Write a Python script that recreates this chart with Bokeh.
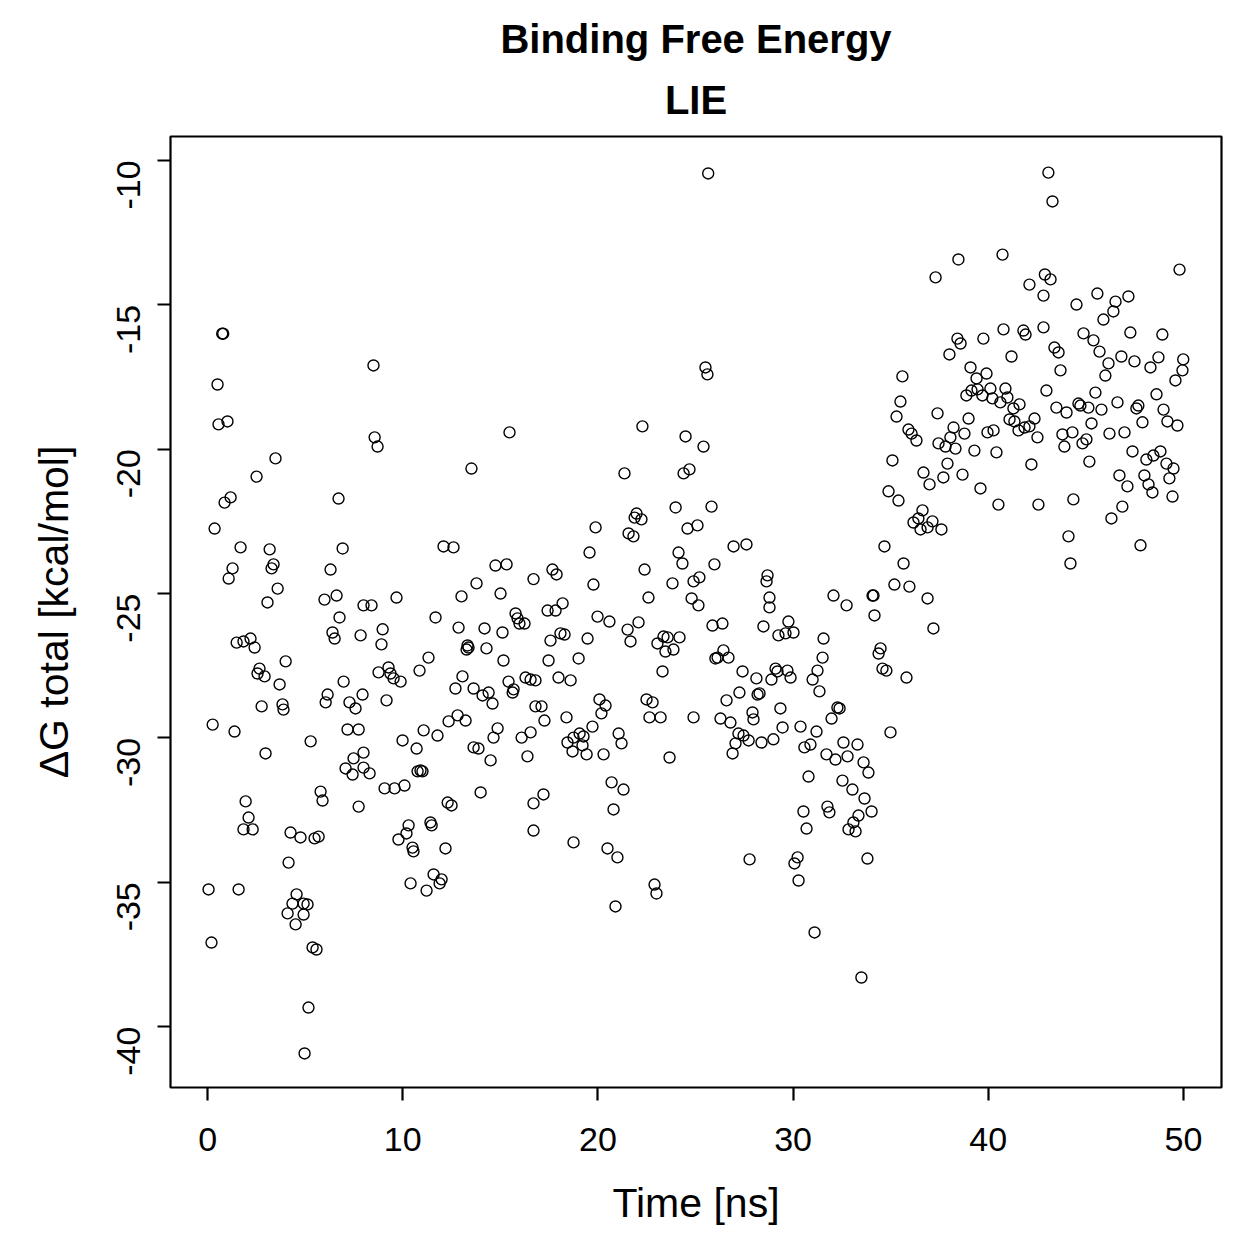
from bokeh.plotting import figure
from bokeh.models import Range1d, FixedTicker, Title, ColumnDataSource
from bokeh.embed import file_html
from bokeh.resources import INLINE
import math

time_ns = [
0.05,0.20,0.26,0.36,0.51,0.56,0.75,0.80,0.87,1.02,1.08,1.18,1.28,1.38,1.49,1.59,1.69,1.84,1.84,1.95,
2.10,2.20,2.31,2.41,2.51,2.56,2.66,2.77,2.92,2.97,3.07,3.18,3.28,3.38,3.48,3.59,3.69,3.84,3.89,4.00,
4.10,4.15,4.25,4.35,4.51,4.56,4.76,4.92,4.92,4.97,5.12,5.17,5.28,5.38,5.48,5.58,5.69,5.79,5.89,5.99,
6.05,6.15,6.30,6.40,6.51,6.61,6.71,6.76,6.92,6.97,7.07,7.17,7.27,7.43,7.48,7.58,7.74,7.74,7.84,7.94,
7.99,7.99,7.99,8.30,
8.40,8.50,8.56,8.71,8.76,8.91,8.97,9.07,9.17,9.27,9.37,9.53,9.58,9.68,9.78,9.89,9.99,10.09,10.19,10.30,
10.40,10.50,10.55,10.71,10.76,10.86,10.91,11.01,11.07,11.22,11.32,11.42,11.48,11.58,11.68,11.78,11.89,11.99,12.09,12.19,
12.30,12.35,12.50,12.60,12.70,12.81,12.86,13.01,13.06,13.22,13.27,13.32,13.37,13.52,13.63,13.63,13.78,13.88,13.99,14.09,
14.19,14.29,14.40,14.50,14.60,14.65,14.75,14.86,15.01,15.11,15.16,15.32,15.42,15.47,15.63,15.68,15.78,15.88,15.98,16.09,
16.24,16.29,16.39,16.55,16.55,16.70,16.70,16.70,16.80,16.80,
17.11,17.21,17.26,17.42,17.47,17.57,17.67,17.83,17.88,17.98,18.08,18.19,18.29,18.39,18.44,18.60,18.70,18.75,18.75,19.01,
19.06,19.21,19.26,19.42,19.47,19.57,19.72,19.77,19.88,19.98,20.08,20.18,20.29,20.39,20.49,20.59,20.70,20.80,20.90,21.00,
21.06,21.21,21.31,21.36,21.52,21.57,21.67,21.82,21.88,21.98,22.08,22.23,22.28,22.39,22.49,22.59,22.64,22.80,22.90,23.00,
23.05,23.21,23.31,23.36,23.46,23.57,23.67,23.82,23.87,23.98,24.13,24.18,24.33,24.39,24.49,24.59,24.69,24.80,24.90,24.90,
25.10,25.15,25.20,25.41,25.51,25.61,25.65,25.82,
25.87,25.97,26.02,26.13,26.28,26.38,26.43,26.59,26.69,26.79,26.90,26.95,27.05,27.20,27.25,27.41,27.46,27.61,27.72,27.77,
27.92,27.97,28.12,28.18,28.28,28.38,28.48,28.64,28.69,28.79,28.79,28.89,28.99,29.10,29.20,29.25,29.35,29.46,29.61,29.71,
29.76,29.87,30.02,30.07,30.23,30.28,30.38,30.53,30.58,30.69,30.79,30.89,31.00,31.10,31.20,31.25,31.35,31.51,31.56,31.71,
31.76,31.86,31.97,32.07,32.17,32.27,32.38,32.53,32.58,32.74,32.79,32.84,33.04,33.09,33.20,33.30,33.35,33.50,33.61,33.66,
33.81,33.86,34.02,34.07,34.12,34.17,
34.38,34.48,34.58,34.68,34.78,34.89,34.99,35.09,35.19,35.30,35.40,35.50,35.60,35.66,35.81,35.91,35.96,36.07,36.17,36.32,
36.42,36.53,36.63,36.68,36.89,36.89,36.99,37.14,37.19,37.30,37.40,37.45,37.60,37.70,37.81,37.91,38.01,38.06,38.22,38.32,
38.42,38.47,38.58,38.68,38.78,38.88,38.99,39.09,39.14,39.29,39.40,39.45,39.60,39.70,39.75,39.91,39.96,40.11,40.21,40.27,
40.42,40.52,40.62,40.73,40.78,40.88,40.98,41.09,41.19,41.29,41.34,41.55,41.60,41.80,41.86,41.91,42.11,42.11,42.21,42.37,
42.52,42.57,42.83,42.83,42.90,42.98,43.08,43.19,43.29,
43.39,43.49,43.60,43.70,43.80,43.90,44.01,44.11,44.21,44.31,44.36,44.52,44.62,44.72,44.83,44.88,45.03,45.13,45.18,45.29,
45.39,45.49,45.59,45.70,45.80,45.90,46.00,46.16,46.21,46.31,46.41,46.52,46.62,46.72,46.82,46.87,46.98,47.13,47.18,47.28,
47.39,47.49,47.59,47.69,47.80,47.90,48.00,48.10,48.21,48.31,48.41,48.46,48.62,48.72,48.82,48.92,48.98,49.13,49.18,49.28,
49.44,49.49,49.59,49.69,49.80,49.95,49.99,
]

dG_total = [
-35.25,-37.09,-29.54,-22.75,-17.76,-19.14,-16.00,-16.00,-21.85,-19.04,-24.48,-21.67,-24.13,-29.78,-26.70,-35.25,-23.40,-26.66,-33.17,-32.20,
-32.76,-26.56,-33.17,-26.87,-20.95,-27.77,-27.60,-28.91,-27.87,-30.54,-25.31,-23.47,-24.13,-23.99,-20.32,-24.83,-28.15,-28.84,-29.02,-27.35,
-36.08,-34.32,-33.28,-35.74,-36.46,-35.42,-33.45,-35.74,-36.12,-40.93,-35.77,-39.34,-30.12,-37.26,-33.48,-37.33,-33.42,-31.86,-32.17,-25.21,
-28.77,-28.50,-24.17,-26.35,-26.56,-25.07,-21.71,-25.83,-23.44,-28.05,-31.06,-29.71,-28.77,-31.27,-30.71,-28.98,-29.71,-32.38,-26.45,-28.50,
-25.41,-30.51,-31.03,-31.23,
-25.41,-17.10,-19.59,-19.91,-27.73,-26.76,-26.24,-31.75,-28.70,-27.56,-27.77,-27.94,-31.75,-25.14,-33.52,-28.05,-30.09,-31.65,-33.31,-33.03,
-35.04,-33.80,-33.93,-30.37,-31.16,-27.67,-31.13,-31.16,-29.74,-35.29,-27.22,-32.93,-33.03,-34.73,-25.83,-29.92,-35.04,-34.90,-23.37,-33.83,
-32.24,-29.43,-32.34,-23.40,-28.29,-29.22,-26.18,-25.10,-27.87,-29.40,-26.94,-26.80,-26.87,-20.67,-28.29,-30.33,-24.65,-30.37,-31.89,-28.53,
-26.21,-26.90,-28.43,-30.78,-28.81,-29.99,-24.03,-29.67,-25.00,-26.35,-27.32,-23.99,-28.05,-19.42,-28.43,-28.32,-25.69,-25.86,-26.04,-29.99,
-26.04,-27.91,-30.64,-27.98,-29.81,-24.50,-32.27,-33.21,-28.01,-28.91,
-28.91,-31.96,-29.40,-25.59,-27.32,-26.63,-24.17,-25.59,-24.34,-27.91,-26.38,-25.34,-26.42,-29.29,-30.16,-28.01,-30.47,-29.99,-33.62,-27.25,
-29.85,-30.26,-29.95,-30.57,-26.56,-23.58,-29.61,-24.69,-22.71,-25.80,-28.67,-29.15,-30.57,-28.88,-33.83,-25.97,-31.54,-32.48,-35.84,-34.14,
-29.85,-30.19,-31.79,-20.84,-26.25,-22.92,-26.66,-23.02,-22.37,-22.23,-26.00,-22.43,-19.21,-24.17,-28.67,-25.14,-29.29,-28.77,-35.08,-35.39,
-26.73,-29.29,-27.70,-26.49,-27.01,-26.52,-30.68,-24.65,-26.94,-22.02,-23.58,-26.52,-23.96,-20.84,-19.56,-22.75,-20.70,-25.17,-24.58,-29.29,
-22.64,-25.41,-24.44,-19.91,-17.17,-17.41,-10.45,-21.99,
-26.11,-23.99,-27.25,-27.22,-29.33,-26.04,-26.97,-28.70,-27.22,-29.47,-30.54,-23.37,-30.19,-29.85,-28.43,-27.70,-29.92,-23.30,-30.09,-34.21,
-29.12,-29.36,-27.94,-28.50,-28.46,-30.16,-26.14,-24.58,-24.37,-25.14,-25.48,-27.98,-30.05,-27.60,-27.70,-26.45,-28.98,-29.64,-26.38,-27.67,
-25.97,-27.91,-26.35,-34.35,-34.14,-34.94,-29.61,-32.55,-30.33,-33.14,-31.34,-30.23,-27.98,-36.74,-29.78,-27.67,-28.39,-27.22,-26.56,-30.57,
-32.38,-32.58,-29.33,-25.07,-30.75,-28.95,-28.98,-31.48,-30.16,-25.41,-30.64,-33.17,-31.79,-32.93,-33.24,-30.23,-32.69,-38.30,-30.85,-32.10,
-34.18,-31.20,-32.55,-25.07,-25.07,-25.76,
-27.08,-26.90,-27.60,-23.37,-27.67,-21.46,-29.81,-20.39,-24.69,-18.87,-21.78,-18.35,-17.48,-23.96,-27.91,-19.32,-24.76,-19.46,-22.54,-19.70,
-22.40,-22.78,-22.12,-20.81,-22.71,-25.17,-21.22,-22.50,-26.21,-14.05,-18.76,-19.80,-22.78,-20.98,-19.91,-20.50,-16.72,-19.59,-19.25,-19.98,
-16.17,-13.43,-16.34,-20.88,-19.46,-18.14,-18.94,-17.17,-17.97,-20.05,-17.55,-17.93,-21.36,-18.14,-16.17,-17.38,-19.42,-17.90,-18.24,-19.35,
-20.11,-21.92,-18.38,-13.26,-15.85,-17.90,-18.21,-18.97,-16.79,-18.59,-19.04,-19.35,-18.45,-15.89,-19.25,-16.03,-19.21,-14.30,-20.53,-18.94,
-19.59,-21.92,-14.68,-15.78,-13.95,-17.97,-10.42,-14.12,-11.42,
-16.48,-18.56,-16.65,-17.27,-19.49,-19.91,-18.73,-23.02,-23.96,-19.42,-21.74,-14.99,-18.42,-18.49,-19.80,-15.99,-19.66,-18.56,-20.43,-19.11,
-16.23,-18.04,-14.61,-16.62,-18.63,-15.51,-17.45,-17.03,-19.46,-22.40,-15.23,-14.89,-18.38,-20.91,-16.79,-21.99,-19.42,-21.29,-14.71,-15.96,
-20.08,-16.96,-18.59,-18.49,-23.33,-19.07,-20.91,-20.36,-21.22,-17.17,-21.50,-20.22,-18.10,-16.82,-20.08,-16.03,-18.63,-20.50,-19.04,-21.01,
-21.64,-20.67,-17.62,-19.18,-13.78,-17.27,-16.89,
]

x_ticks = [0, 10, 20, 30, 40, 50]
y_ticks = [-10, -15, -20, -25, -30, -35, -40]
y_tick_labels = ["-10", "-15", "-20", "-25", "-30", "-35", "-40"]
title_lines = ["Binding Free Energy", "LIE"]

FONT = "Liberation Sans"

p = figure(width=1259, height=1259, output_backend="svg", toolbar_location=None,
           x_range=Range1d(-1.9, 51.95), y_range=Range1d(-42.11, -9.17),
           min_border_left=170, min_border_right=38, min_border_top=136, min_border_bottom=172)
p.title.text = ""
p.title.visible = False
p.background_fill_color = "white"
p.border_fill_color = "white"
p.outline_line_color = "black"
p.outline_line_width = 2.2
p.xgrid.visible = False
p.ygrid.visible = False

src = ColumnDataSource(dict(t=time_ns, g=dG_total))
p.scatter("t", "g", source=src, marker="circle", size=11, fill_color=None,
          line_color="black", line_width=1.4)

for ax, ticks in ((p.xaxis[0], x_ticks), (p.yaxis[0], y_ticks)):
    ax.ticker = FixedTicker(ticks=ticks)
    ax.axis_line_color = None
    ax.major_tick_in = 0
    ax.major_tick_out = 13
    ax.major_tick_line_width = 2.2
    ax.minor_tick_line_color = None
    ax.major_label_text_font = FONT
    ax.major_label_text_font_size = "34px"
    ax.major_label_text_color = "black"
    ax.axis_label_text_font = FONT
    ax.axis_label_text_font_size = "41px"
    ax.axis_label_text_font_style = "normal"
    ax.axis_label_text_color = "black"

p.yaxis.major_label_overrides = {v: s for v, s in zip(y_ticks, y_tick_labels)}

p.xaxis.axis_label = "Time [ns]"
p.yaxis.axis_label = "\u0394G total [kcal/mol]"
p.xaxis.major_label_standoff = 27
p.xaxis.axis_label_standoff = 26
p.yaxis.major_label_standoff = 29
p.yaxis.major_label_orientation = math.pi / 2
p.yaxis.axis_label_standoff = 26

sub = Title(text=title_lines[1], align="center", text_font=FONT, text_font_size="40px",
            text_font_style="bold", text_color="black", standoff=30)
main = Title(text=title_lines[0], align="center", text_font=FONT, text_font_size="40px",
             text_font_style="bold", text_color="black", standoff=0)
p.add_layout(sub, "above")
p.add_layout(main, "above")

open("out.html", "w").write(file_html(p, INLINE))
